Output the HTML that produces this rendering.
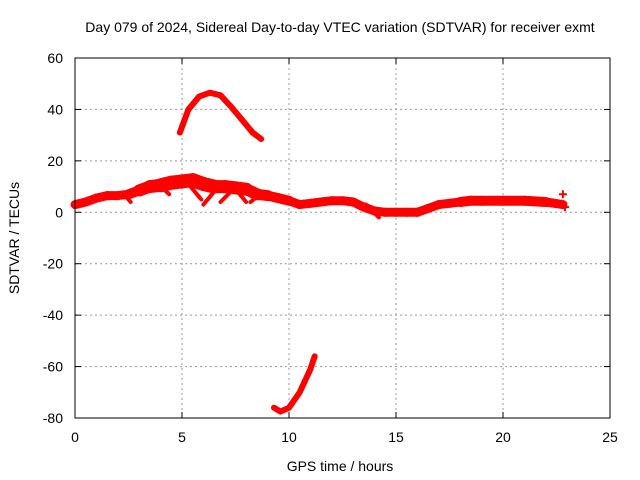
<!DOCTYPE html>
<html><head><meta charset="utf-8"><style>
body{margin:0;background:#fff}
svg{display:block;font-family:"Liberation Sans",sans-serif}
</style></head><body>
<svg id="chart" width="640" height="480">
<text x="340" y="32" font-size="14" text-anchor="middle">Day 079 of 2024, Sidereal Day-to-day VTEC variation (SDTVAR) for receiver exmt</text>
<text x="340" y="471" font-size="14" text-anchor="middle">GPS time / hours</text>
<text transform="translate(19,238) rotate(-90)" font-size="14" text-anchor="middle">SDTVAR / TECUs</text>
<g id="grid"></g><g id="marks"></g>
<rect x="75" y="58" width="535" height="360" fill="none" stroke="#000" stroke-width="1"/>
</svg>
<script>
const xTicks=[0,5,10,15,20,25];
const yTicks=[60,40,20,0,-20,-40,-60,-80];
const mainHours=[0,0.5,1,1.5,2,2.5,3,3.5,4,4.5,5,5.5,6,6.5,7,7.5,8,8.5,9,9.5,10,10.5,11,11.5,12,12.5,13,13.5,14,14.5,15,15.5,16,16.5,17,17.5,18,18.5,19,20,21,22,22.8];
const mainValues=[3,4,5.5,6.5,6.5,7,8.5,10,10.5,11.5,12,12.5,11,10,10,9.5,9,7,6.5,5.5,4.5,3,3.5,4,4.5,4.5,4,2,0.5,0,0,0,0,1.5,3,3.5,4,4.5,4.5,4.5,4.5,4,3];
const bandWidths=[9,9,9,9,9,10,12,13,14,14,14,14,14,13,13,13,12,11,10,10,9,9,9,9,9,9,9,9,9,9,9,9,9,9,9,9,10,10,10,10,10,9,9];
const arcUpHours=[4.9,5.3,5.8,6.3,6.8,7.3,7.8,8.3,8.7];
const arcUpValues=[31,40,45,46.5,45.5,41,36,31,28.5];
const arcDownHours=[9.3,9.6,10,10.5,11,11.2];
const arcDownValues=[-76,-77.5,-76,-70,-61,-56];
const branchStartHours=[3.9,5.2,6.0,6.8,7.4,8.2,2.3,13.6];
const branchStartValues=[11,12,3,4,10,4,7,3];
const branchEndHours=[4.4,5.9,6.6,7.4,8.0,8.8,2.6,14.2];
const branchEndValues=[7,5,9,9,4,8,4,-2];
const extraHours=[22.8,22.9];
const extraValues=[7,2];
const X0=75,X1=610,Y0=58,Y1=418;
const xs=h=>X0+(h-0)/25*(X1-X0);
const ys=v=>Y0+(60-v)/140*(Y1-Y0);
const NS='http://www.w3.org/2000/svg';
const grid=document.getElementById('grid'),marks=document.getElementById('marks');
function mk(tag,attrs,parent){const e=document.createElementNS(NS,tag);for(const k in attrs)e.setAttribute(k,attrs[k]);parent.appendChild(e);return e;}
xTicks.forEach(t=>{const x=xs(t);
 if(t>0&&t<25){const l=mk('line',{x1:x,x2:x,y1:Y0,y2:Y1,stroke:'#999','stroke-dasharray':'2,3'},grid);
 
 }
 mk('line',{x1:x,x2:x,y1:Y1,y2:Y1-6,stroke:'#000'},grid);mk('line',{x1:x,x2:x,y1:Y0,y2:Y0+6,stroke:'#000'},grid);
 const tx=mk('text',{x:x,y:Y1+24,'font-size':14,'text-anchor':'middle'},grid);tx.textContent=t;
 
 });
yTicks.forEach(t=>{const y=ys(t);
 if(t>-80&&t<60){const l=mk('line',{x1:X0,x2:X1,y1:y,y2:y,stroke:'#999','stroke-dasharray':'2,3'},grid);
 
 }
 mk('line',{x1:X0,x2:X0+6,y1:y,y2:y,stroke:'#000'},grid);mk('line',{x1:X1,x2:X1-6,y1:y,y2:y,stroke:'#000'},grid);
 const tx=mk('text',{x:X0-12,y:y+5,'font-size':14,'text-anchor':'end'},grid);tx.textContent=t;
 
 });
function line(hs,vs,w,name){const p=mk('polyline',{points:hs.map((h,i)=>xs(h)+','+ys(vs[i])).join(' '),fill:'none',stroke:'#f00','stroke-width':w,'stroke-linejoin':'round','stroke-linecap':'round'},marks);
 
 }
for(let i=0;i<mainHours.length-1;i++){
 line([mainHours[i],mainHours[i+1]],[mainValues[i],mainValues[i+1]],bandWidths[i],'main-sdtvar-band');
}
line(arcUpHours,arcUpValues,6,'positive-arc-series');
line(arcDownHours,arcDownValues,6,'negative-arc-series');
branchStartHours.forEach((h,i)=>line([h,branchEndHours[i]],[branchStartValues[i],branchEndValues[i]],4,'branch-series'));
extraHours.forEach((h,i)=>{const x=xs(h),y=ys(extraValues[i]);
 const p=mk('path',{d:`M${x-4},${y}h8M${x},${y-4}v8`,stroke:'#f00','stroke-width':2},marks);
 
 });
</script>
</body></html>
